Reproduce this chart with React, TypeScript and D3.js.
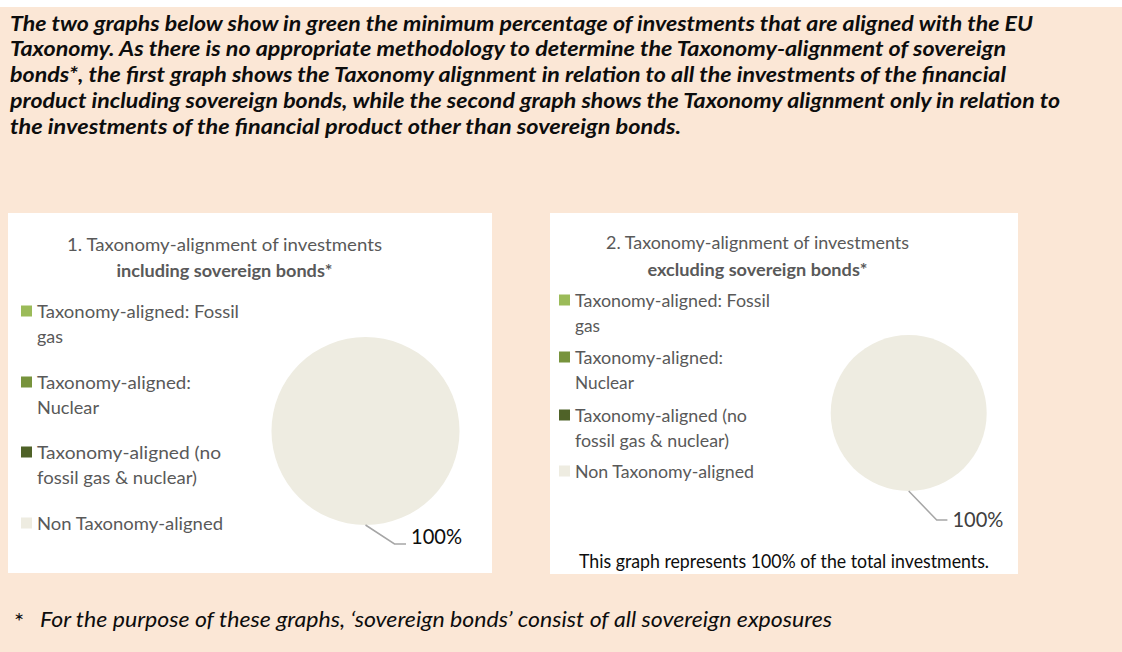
import React from "react";
import * as d3 from "d3";

const categories = [
  "Taxonomy-aligned: Fossil gas",
  "Taxonomy-aligned: Nuclear",
  "Taxonomy-aligned (no fossil gas & nuclear)",
  "Non Taxonomy-aligned",
];
const valuesIncluding = [0, 0, 0, 100];
const valuesExcluding = [0, 0, 0, 100];
const sliceColors = ["#9BBB59", "#77933C", "#4F6228", "#EEECE1"];

const legendLines1 = [
  ["Taxonomy-aligned: Fossil", "gas"],
  ["Taxonomy-aligned:", "Nuclear"],
  ["Taxonomy-aligned  (no", "fossil gas & nuclear)"],
  ["Non Taxonomy-aligned"],
];
const legendLines2 = [
  ["Taxonomy-aligned: Fossil", "gas"],
  ["Taxonomy-aligned:", "Nuclear"],
  ["Taxonomy-aligned (no", "fossil gas & nuclear)"],
  ["Non Taxonomy-aligned"],
];

const introLines = [
  "The two graphs below show in green the minimum percentage of investments that are aligned with the EU",
  "Taxonomy. As there is no appropriate methodology to determine the Taxonomy-alignment of sovereign",
  "bonds*, the first graph shows the Taxonomy alignment in relation to all the investments of the financial",
  "product including sovereign bonds, while the second graph shows the Taxonomy alignment only in relation to",
  "the investments of the financial product other than sovereign bonds.",
];
const introWidths = [1023, 996, 996, 1050, 671];

const title1 = ["1. Taxonomy-alignment of investments", "including sovereign bonds*"];
const title2 = ["2. Taxonomy-alignment of investments", "excluding sovereign bonds*"];
const footnote = "For the purpose of these graphs, \u2018sovereign bonds\u2019 consist of  all sovereign exposures";
const totalNote = "This graph represents 100% of the total investments.";

const FONT = "Lato, 'Open Sans', sans-serif";

type PanelCfg = {
  x: number; y: number; w: number; h: number;
  values: number[];
  legend: string[][];
  legendWidths: number[][];
  legendX: number;
  legendBaselines: number[];
  lineGap: number;
  legendFont: number;
  title: string[];
  titleCx: number;
  titleBase: number[];
  titleWidths: number[];
  titleFont: number;
  cx: number; cy: number; r: number;
  leaderDx: number; leaderDy: number; leaderH: number;
  labelDy: number;
  labelColor: string;
  labelWidth: number;
};

const panels: PanelCfg[] = [
  {
    x: 8, y: 213, w: 484, h: 360,
    values: valuesIncluding,
    legend: legendLines1,
    legendWidths: [[202, 26], [154, 62], [184, 160], [186]],
    legendX: 37,
    legendBaselines: [318, 389, 459, 530],
    lineGap: 24.5,
    legendFont: 17.4,
    title: title1,
    titleCx: 224.5,
    titleBase: [250.5, 277.3],
    titleWidths: [315, 216],
    titleFont: 16.9,
    cx: 365.5, cy: 431, r: 94,
    leaderDx: 29, leaderDy: 19, leaderH: 11.5,
    labelDy: 0,
    labelColor: "#0d0d0d",
    labelWidth: 51,
  },
  {
    x: 550, y: 213, w: 468, h: 361,
    values: valuesExcluding,
    legend: legendLines2,
    legendWidths: [[195, 25], [148, 59], [172, 154], [179]],
    legendX: 575,
    legendBaselines: [307, 364, 422, 478],
    lineGap: 24.8,
    legendFont: 16.9,
    title: title2,
    titleCx: 757.5,
    titleBase: [249.3, 276],
    titleWidths: [303, 220],
    titleFont: 16.4,
    cx: 908.7, cy: 413, r: 78,
    leaderDx: 28, leaderDy: 29, leaderH: 10.7,
    labelDy: 7,
    labelColor: "#404040",
    labelWidth: 51,
  },
];

function Panel({ p }: { p: PanelCfg }) {
  const pie = d3.pie<number>().sort(null).value((d) => d);
  const arcs = pie(p.values);
  const arc = d3.arc<d3.PieArcDatum<number>>().innerRadius(0).outerRadius(p.r);
  const total = d3.sum(p.values);
  return (
    <g>
      <rect x={p.x} y={p.y} width={p.w} height={p.h} fill="#ffffff" />
      {p.title.map((t, i) => (
        <text
          key={i}
          x={p.titleCx}
          y={p.titleBase[i]}
          textAnchor="middle"
          fontSize={p.titleFont}
          fontWeight={i === 1 ? 700 : 400}
          fill="#595959"
          textLength={p.titleWidths[i]}
          lengthAdjust="spacingAndGlyphs"
        >
          {t}
        </text>
      ))}
      {p.legend.map((lines, i) => {
        const base = p.legendBaselines[i];
        return (
          <g key={i}>
            <rect x={p.legendX - 16} y={base - 12.5} width={11} height={11} fill={sliceColors[i]} />
            {lines.map((ln, j) => (
              <text
                key={j}
                x={p.legendX}
                y={base + j * p.lineGap}
                fontSize={p.legendFont}
                fill="#595959"
                textLength={p.legendWidths[i][j]}
                lengthAdjust="spacingAndGlyphs"
              >
                {ln}
              </text>
            ))}
          </g>
        );
      })}
      <g transform={`translate(${p.cx},${p.cy})`}>
        {arcs.map((a, i) =>
          a.endAngle - a.startAngle > 0 ? (
            <path key={i} d={arc(a) || ""} fill={sliceColors[i]} />
          ) : null
        )}
        {arcs.map((a, i) => {
          if (a.value <= 0) return null;
          const mid = (a.startAngle + a.endAngle) / 2;
          const sx = p.r * Math.sin(mid);
          const sy = -p.r * Math.cos(mid);
          const ex = sx + p.leaderDx;
          const ey = sy + p.leaderDy;
          const hx = ex + p.leaderH;
          const pct = d3.format(".0%")(a.value / total);
          return (
            <g key={"l" + i}>
              <polyline
                points={`${sx},${sy} ${ex},${ey} ${hx},${ey}`}
                fill="none"
                stroke="#A6A6A6"
                strokeWidth={1.5}
              />
              <text
                x={hx + 5}
                y={ey + p.labelDy}
                fontSize={21.5}
                fill={p.labelColor}
                textLength={p.labelWidth}
                lengthAdjust="spacingAndGlyphs"
              >
                {pct}
              </text>
            </g>
          );
        })}
      </g>
    </g>
  );
}

export default function App() {
  return (
    <svg
      width={1122}
      height={652}
      style={{ position: "absolute", left: 0, top: 0, display: "block" }}
      fontFamily={FONT}
    >
      <rect x={0} y={0} width={1122} height={652} fill="#ffffff" />
      <rect x={0} y={7} width={1122} height={645} fill="#FBE7D6" />
      {introLines.map((t, i) => (
        <text
          key={i}
          x={10}
          y={30.5 + i * 25.75}
          fontSize={20.5}
          fontWeight={700}
          fontStyle="italic"
          fill="#0d0d0d"
          textLength={introWidths[i]}
          lengthAdjust="spacingAndGlyphs"
        >
          {t}
        </text>
      ))}
      {panels.map((p, i) => (
        <Panel key={i} p={p} />
      ))}
      <text
        x={579}
        y={568}
        fontSize={19.8}
        fill="#0d0d0d"
        textLength={410}
        lengthAdjust="spacingAndGlyphs"
      >
        {totalNote}
      </text>
      <text x={14} y={630} fontSize={24} fill="#0d0d0d">
        *
      </text>
      <text
        x={40}
        y={627}
        fontSize={20.5}
        fontStyle="italic"
        fill="#0d0d0d"
        textLength={792}
        lengthAdjust="spacingAndGlyphs"
      >
        {footnote}
      </text>
    </svg>
  );
}
